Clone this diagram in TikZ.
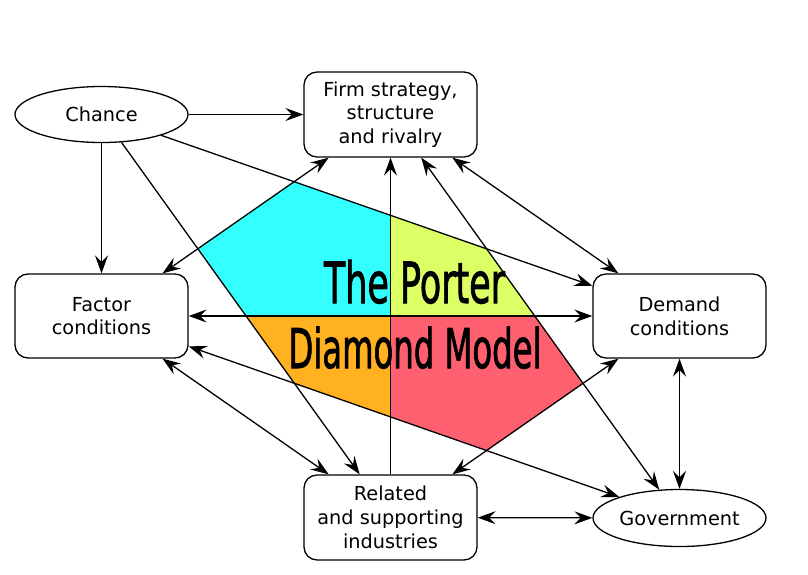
\documentclass[tikz,border=0pt]{standalone}
\usepackage{fontspec}
\usepackage{graphicx}
\setmainfont{DejaVu Sans}
\newfontfamily\titlefont[FakeBold=1.8]{DejaVu Sans}
\usetikzlibrary{arrows.meta,shapes.geometric}
\definecolor{cyanq}{RGB}{51,255,255}
\definecolor{limeq}{RGB}{221,255,102}
\definecolor{orangeq}{RGB}{255,177,31}
\definecolor{redq}{RGB}{255,96,112}
\begin{document}
\begin{tikzpicture}[x=1pt,y=-1pt,
  every node/.style={font=\fontsize{19.3}{23.8}\selectfont, align=center, inner sep=0pt},
  box/.style={draw, line width=1.3pt, rounded corners=13pt, fill=white, minimum width=173pt, minimum height=85pt},
  oval/.style={draw, line width=1.3pt, ellipse, fill=white, minimum width=173pt, minimum height=56pt},
  tip/.tip={Stealth[length=18pt,width=13pt,inset=6.5pt]},
  conn/.style={line width=1.3pt, -tip},
  dconn/.style={line width=1.3pt, tip-tip},
]
\useasboundingbox (0,0) rectangle (808,574);
\fill[white] (0,0) rectangle (808,574);
% nodes
\node[oval] (chance) at (101.5,114.5) {Chance};
\node[box] (firm) at (390.5,114.5) {Firm strategy,\\structure\\and rivalry};
\node[box, minimum height=84pt] (factor) at (101.5,316) {Factor\\conditions};
\node[box, minimum height=84pt] (demand) at (679.5,316) {Demand\\conditions};
\node[box] (related) at (390.5,517.5) {Related\\and supporting\\industries};
\node[oval, minimum height=57pt] (gov) at (679.5,518) {Government};
% diamond polygon
\coordinate (p1) at (intersection of chance.center--demand.center and factor.center--firm.center);
\coordinate (p2) at (intersection of factor.center--firm.center and chance.center--related.center);
\coordinate (p3) at (intersection of chance.center--related.center and factor.center--gov.center);
\coordinate (p4) at (intersection of factor.center--gov.center and demand.center--related.center);
\coordinate (p5) at (intersection of demand.center--related.center and firm.center--gov.center);
\coordinate (p6) at (intersection of firm.center--gov.center and chance.center--demand.center);
\begin{scope}
\clip (p1) -- (p2) -- (p3) -- (p4) -- (p5) -- (p6) -- cycle;
\fill[cyanq] (0,0) rectangle (390.5,316);
\fill[limeq] (390.5,0) rectangle (808,316);
\fill[orangeq] (0,316) rectangle (390.5,574);
\fill[redq] (390.5,316) rectangle (808,574);
\end{scope}
% connectors
\draw[conn] (chance) -- (firm);
\draw[conn] (chance) -- (factor);
\draw[conn] (chance) -- (related);
\draw[conn] (chance) -- (demand);
\draw[dconn] (factor) -- (firm);
\draw[dconn] (factor) -- (demand);
\draw[dconn] (factor) -- (related);
\draw[dconn] (factor) -- (gov);
\draw[conn] (related) -- (firm);
\draw[dconn] (firm) -- (demand);
\draw[dconn] (firm) -- (gov);
\draw[dconn] (demand) -- (related);
\draw[dconn] (demand) -- (gov);
\draw[dconn] (related) -- (gov);
% title
\node[anchor=base, font=\titlefont\fontsize{57}{57}\selectfont] (t1) at (414.5,303) {\resizebox{181pt}{43pt}{The Porter}};
\node[anchor=base, font=\titlefont\fontsize{55}{55}\selectfont] (t2) at (415,368) {\resizebox{253pt}{41.5pt}{Diamond Model}};
\end{tikzpicture}
\end{document}
